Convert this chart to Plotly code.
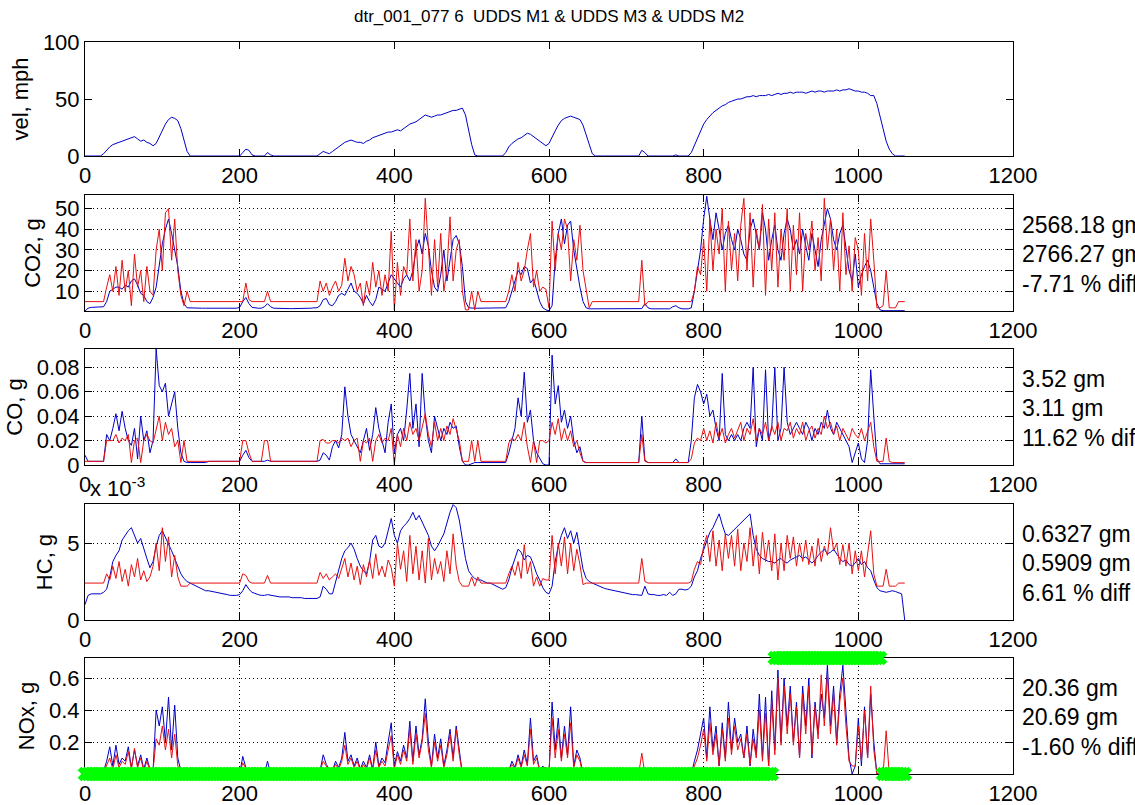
import plotly.graph_objects as go

FIG_W, FIG_H = 1135, 805
FONT = "Liberation Sans, Arial, Helvetica, sans-serif"
BLUE = "#0000C8"
RED = "#E81010"
GREEN = "#00FF00"

# time base of the logged test (s), sampled every 4 s
t_step = 4
t = list(range(0, 1061, t_step))

vel_mph = [
    0, 0, 0, 0, 0, 0, 2, 5, 8, 10,
    11, 12, 13, 14, 15, 16, 17, 15, 13, 14,
    12, 11, 9, 11, 17, 22, 28, 32, 34, 33,
    31, 24, 13, 4, 0, 0, 0, 0, 0, 0,
    0, 0, 0, 0, 0, 0, 0, 0, 0, 0,
    0, 3, 6, 5, 1, 0, 0, 0, 0, 3,
    1, 0, 0, 0, 0, 0, 0, 0, 0, 0,
    0, 0, 0, 0, 0, 0, 2, 4, 3, 2,
    4, 6, 8, 10, 12, 13, 14, 13, 12, 12,
    11, 13, 14, 16, 17, 18, 19, 20, 21, 21,
    22, 23, 22, 24, 26, 28, 29, 30, 32, 34,
    36, 35, 34, 35, 36, 36, 37, 38, 39, 40,
    40, 41, 42, 36, 22, 10, 1, 0, 0, 0,
    0, 0, 0, 0, 0, 0, 3, 8, 11, 13,
    15, 16, 18, 20, 19, 17, 15, 13, 11, 9,
    11, 17, 22, 27, 31, 33, 34, 35, 34, 33,
    32, 27, 19, 10, 2, 0, 0, 0, 0, 0,
    0, 0, 0, 0, 0, 0, 0, 0, 0, 0,
    5, 3, 0, 0, 0, 0, 0, 0, 0, 0,
    0, 1, 0, 0, 0, 0, 3, 9, 16, 22,
    28, 32, 35, 38, 40, 42, 44, 45, 47, 48,
    49, 50, 50, 51, 52, 52, 53, 52, 53, 53,
    53, 54, 53, 54, 55, 54, 55, 55, 56, 55,
    56, 56, 56, 55, 56, 57, 56, 57, 57, 56,
    57, 57, 57, 58, 57, 58, 58, 59, 58, 57,
    57, 56, 56, 55, 53, 53, 46, 36, 24, 13,
    6, 2, 0, 0, 0, 0,
]

co2_meas = [
    0.5, 1.8, 2.2, 2.2, 2.2, 2.3, 2.5, 5, 10, 11,
    12, 12, 11, 13, 12, 15, 16, 13, 9, 8,
    5, 4, 7, 12, 22, 33, 40, 45, 38, 30,
    22, 10, 4, 2, 1.9, 1.9, 1.8, 1.8, 1.8, 1.8,
    1.8, 1.8, 1.8, 1.7, 1.7, 1.7, 1.7, 1.7, 1.7, 1.8,
    2.2, 5, 7, 4, 2.2, 1.9, 1.8, 1.8, 2.5, 4,
    2.5, 1.8, 1.7, 1.7, 1.7, 1.6, 1.6, 1.6, 1.6, 1.6,
    1.6, 1.6, 1.7, 1.8, 2, 2, 3, 6, 6.5, 3.5,
    3, 5, 8, 9, 8, 11, 14, 10, 9, 7,
    4, 8, 5, 3, 6, 12, 11, 10, 14, 18,
    16, 14, 12, 16, 18, 15, 20, 30, 35, 28,
    38, 32, 20, 12, 10, 18, 30, 15, 25, 35,
    37, 33, 22, 5, 2, 1.8, 1.8, 1.8, 1.8, 1.8,
    1.8, 1.8, 1.8, 1.8, 1.8, 1.8, 2, 5, 10, 14,
    20, 18, 22, 21, 14, 16, 10, 5, 2, 1,
    0.6, 3, 25, 38, 45, 33, 42, 44, 30, 20,
    12, 5, 2, 1.5, 1.5, 1.5, 1.5, 1.5, 1.5, 1.5,
    1.5, 1.5, 1.5, 1.5, 1.5, 1.5, 1.5, 1.5, 1.5, 1.5,
    1.6, 4, 2, 1.5, 1.5, 1.5, 1.5, 1.5, 1.5, 1.5,
    2.5, 3, 2, 1.5, 1.5, 1.5, 2, 10, 20, 30,
    45, 56, 45, 35, 48, 40, 30, 38, 42, 35,
    30, 40, 35, 28, 25, 40, 45, 38, 30, 48,
    40, 25, 35, 42, 30, 25, 38, 45, 40, 30,
    35, 28, 40, 32, 25, 38, 30, 22, 35, 42,
    50, 45, 35, 30, 38, 42, 30, 20, 15, 28,
    12, 18, 22, 25, 20, 12, 4, 1, 0.6, 0.6,
    0.6, 0.6, 0.6, 0.6, 0.6, 0.6,
]

co2_model = [
    5, 5, 5, 5, 5, 5, 5, 12, 18, 10,
    22, 8, 25, 10, 20, 3, 28, 12, 20, 5,
    22, 10, 8, 30, 40, 20, 48, 50, 25, 45,
    20, 8, 3, 10, 5, 5, 5, 5, 5, 5,
    5, 5, 5, 5, 5, 5, 5, 5, 5, 5,
    5, 5, 14, 6, 5, 5, 5, 5, 5, 10,
    5, 5, 5, 5, 5, 5, 5, 5, 5, 5,
    5, 5, 5, 5, 5, 5, 15, 10, 14, 8,
    12, 15, 10, 13, 26, 15, 22, 18, 10, 14,
    3, 15, 8, 24, 12, 20, 8, 18, 10, 39,
    1, 24, 8, 22, 18, 45, 15, 35, 10, 20,
    55, 30, 8, 35, 12, 38, 10, 20, 46, 15,
    30, 35, 10, 1, 1, 10, 1, 10, 5, 5,
    5, 5, 5, 5, 5, 5, 5, 10, 18, 10,
    24, 15, 20, 30, 38, 12, 20, 10, 12, 11,
    2, 44, 20, 38, 30, 45, 40, 15, 35, 25,
    42, 20, 10, 2, 5, 5, 5, 5, 5, 5,
    5, 5, 5, 5, 5, 5, 5, 5, 5, 5,
    25, 3, 5, 5, 5, 5, 5, 5, 5, 5,
    5, 5, 5, 5, 5, 5, 5, 10, 22, 18,
    35, 10, 45, 20, 40, 28, 50, 10, 44, 20,
    38, 15, 42, 55, 20, 48, 12, 40, 30, 52,
    8, 45, 20, 48, 12, 40, 25, 50, 10, 42,
    18, 48, 10, 38, 30, 44, 20, 36, 15, 55,
    30, 45, 20, 40, 10, 48, 18, 32, 10, 36,
    30, 8, 38, 15, 45, 25, 2, 2, 3, 20,
    2, 2, 2, 5, 5, 5,
]

co_meas = [
    0.008, 0.003, 0.003, 0.003, 0.003, 0.003, 0.003, 0.025, 0.02, 0.03,
    0.042, 0.028, 0.044, 0.03, 0.02, 0.016, 0.03, 0.005, 0.04, 0.02,
    0.028, 0.01, 0.02, 0.095, 0.065, 0.06, 0.067, 0.04, 0.05, 0.06,
    0.03, 0.01, 0.003, 0.002, 0.002, 0.002, 0.002, 0.002, 0.002, 0.002,
    0.003, 0.003, 0.003, 0.003, 0.003, 0.003, 0.003, 0.003, 0.003, 0.003,
    0.003, 0.008, 0.012, 0.006, 0.003, 0.003, 0.003, 0.003, 0.003, 0.004,
    0.003, 0.003, 0.003, 0.003, 0.003, 0.003, 0.003, 0.003, 0.003, 0.003,
    0.003, 0.003, 0.003, 0.003, 0.003, 0.003, 0.004, 0.01, 0.008, 0.004,
    0.015, 0.02, 0.014, 0.025, 0.064, 0.04, 0.025, 0.02, 0.015, 0.01,
    0.02, 0.03, 0.012, 0.025, 0.047, 0.03, 0.02, 0.01, 0.035, 0.05,
    0.01, 0.025, 0.03, 0.02, 0.045, 0.075, 0.03, 0.05, 0.015, 0.075,
    0.04, 0.02, 0.01, 0.04, 0.03, 0.02, 0.03, 0.025, 0.035, 0.03,
    0.032, 0.015, 0.003, 0.0, 0.0, 0.001, 0.002, 0.002, 0.002, 0.002,
    0.002, 0.002, 0.002, 0.002, 0.002, 0.002, 0.002, 0.01, 0.02, 0.03,
    0.055, 0.04, 0.076, 0.035, 0.045, 0.02, 0.01, 0.005, 0.001, 0.0,
    0.0, 0.09, 0.05, 0.065, 0.035, 0.045, 0.03, 0.04, 0.02, 0.01,
    0.015, 0.003, 0.002, 0.002, 0.002, 0.002, 0.002, 0.002, 0.002, 0.002,
    0.002, 0.002, 0.002, 0.002, 0.002, 0.002, 0.002, 0.002, 0.002, 0.002,
    0.04, 0.004, 0.002, 0.002, 0.002, 0.002, 0.002, 0.002, 0.002, 0.002,
    0.002, 0.005, 0.002, 0.002, 0.002, 0.002, 0.02, 0.055, 0.066, 0.06,
    0.05, 0.058, 0.04, 0.045, 0.03, 0.02, 0.075, 0.025, 0.02, 0.025,
    0.02, 0.025, 0.02, 0.03, 0.035, 0.03, 0.08, 0.015, 0.03, 0.02,
    0.078, 0.02, 0.03, 0.08, 0.02, 0.03, 0.08, 0.035, 0.025, 0.03,
    0.035, 0.03, 0.025, 0.035, 0.03, 0.02, 0.03, 0.025, 0.035, 0.03,
    0.045, 0.03, 0.025, 0.035, 0.03, 0.025, 0.02, 0.015, 0.002, 0.01,
    0.018, 0.005, 0.002, 0.02, 0.078, 0.04, 0.005, 0.001, 0.001, 0.001,
    0.001, 0.001, 0.001, 0.001, 0.001, 0.001,
]

co_model = [
    0.003, 0.003, 0.003, 0.003, 0.003, 0.003, 0.003, 0.02, 0.02, 0.02,
    0.025, 0.018, 0.022, 0.02, 0.025, 0.002, 0.02, 0.022, 0.002, 0.02,
    0.025, 0.02, 0.018, 0.03, 0.04, 0.02, 0.035, 0.025, 0.03, 0.015,
    0.02, 0.002, 0.02, 0.003, 0.003, 0.003, 0.003, 0.003, 0.003, 0.003,
    0.003, 0.003, 0.003, 0.003, 0.003, 0.003, 0.003, 0.003, 0.003, 0.003,
    0.003, 0.02, 0.02, 0.01, 0.003, 0.003, 0.003, 0.003, 0.02, 0.02,
    0.003, 0.003, 0.003, 0.003, 0.003, 0.003, 0.003, 0.003, 0.003, 0.003,
    0.003, 0.003, 0.003, 0.003, 0.003, 0.003, 0.02, 0.021, 0.018, 0.018,
    0.02, 0.02, 0.018, 0.022, 0.02, 0.022, 0.015, 0.02, 0.022, 0.003,
    0.02, 0.018, 0.022, 0.003, 0.02, 0.025, 0.018, 0.022, 0.02, 0.03,
    0.0, 0.025, 0.015, 0.03, 0.02, 0.035, 0.025, 0.03, 0.02, 0.03,
    0.042, 0.025, 0.015, 0.035, 0.02, 0.03, 0.02, 0.032, 0.025, 0.038,
    0.03, 0.02, 0.003, 0.003, 0.003, 0.02, 0.003, 0.02, 0.003, 0.003,
    0.003, 0.003, 0.003, 0.003, 0.003, 0.003, 0.003, 0.018, 0.022, 0.02,
    0.025, 0.02, 0.035, 0.015, 0.002, 0.02, 0.002, 0.02, 0.02, 0.018,
    0.02, 0.035, 0.025, 0.038, 0.02, 0.03, 0.02, 0.028, 0.015, 0.02,
    0.01, 0.003, 0.002, 0.002, 0.002, 0.002, 0.002, 0.002, 0.002, 0.002,
    0.002, 0.002, 0.002, 0.002, 0.002, 0.002, 0.002, 0.002, 0.002, 0.002,
    0.025, 0.003, 0.002, 0.002, 0.002, 0.002, 0.002, 0.002, 0.002, 0.002,
    0.002, 0.002, 0.002, 0.002, 0.002, 0.002, 0.005, 0.018, 0.022, 0.02,
    0.03, 0.02, 0.028, 0.018, 0.035, 0.022, 0.03, 0.018, 0.025, 0.03,
    0.022, 0.028, 0.035, 0.02, 0.03, 0.025, 0.038, 0.02, 0.03, 0.025,
    0.035, 0.02, 0.032, 0.025, 0.035, 0.02, 0.03, 0.028, 0.035, 0.022,
    0.03, 0.025, 0.035, 0.02, 0.028, 0.032, 0.022, 0.03, 0.025, 0.04,
    0.03, 0.035, 0.025, 0.032, 0.02, 0.03, 0.025, 0.02, 0.03, 0.025,
    0.022, 0.03, 0.02, 0.028, 0.035, 0.015, 0.003, 0.003, 0.003, 0.022,
    0.003, 0.002, 0.002, 0.002, 0.002, 0.002,
]

# HC in units of 1e-3 g
hc_meas = [
    1.0, 1.6, 1.7, 1.7, 1.7, 1.7, 1.8, 2.0, 2.8, 3.8,
    4.2, 4.5, 5.2, 5.5, 5.8, 6.0, 5.5, 5.0, 5.3, 4.6,
    4.0, 3.4, 3.8, 4.8, 5.5, 5.8, 5.4, 5.0, 4.5, 4.0,
    3.5, 3.0, 2.7, 2.5, 2.4, 2.3, 2.2, 2.1, 2.0, 1.9,
    1.9, 1.85, 1.8, 1.75, 1.7, 1.7, 1.65, 1.6, 1.6, 1.6,
    1.65, 1.9, 2.3, 2.0, 1.8, 1.7, 1.65, 1.6, 1.6, 1.65,
    1.6, 1.55, 1.55, 1.5, 1.5, 1.5, 1.5, 1.45, 1.45, 1.45,
    1.45, 1.4, 1.4, 1.4, 1.4, 1.4, 1.5, 2.2, 2.0, 1.7,
    1.7, 2.5, 3.2, 4.0, 4.5, 4.7, 5.0, 4.6, 4.0, 3.5,
    3.2, 3.0, 3.8, 5.2, 5.5, 4.8, 4.7, 5.0, 5.8, 6.6,
    5.5, 5.0, 5.8, 6.1, 6.3, 6.6, 7.0, 6.5, 6.8, 6.4,
    6.0, 5.5, 4.8, 4.5, 4.8, 5.2, 5.6, 6.3, 7.0, 7.5,
    7.3, 6.5, 5.2, 4.0, 3.2, 2.9, 2.7, 2.6, 2.6, 2.5,
    2.4, 2.4, 2.3, 2.2, 2.1, 2.0, 2.1, 2.6, 3.4, 4.0,
    4.6, 4.4, 3.9, 4.2, 4.1, 3.6, 3.0, 2.6, 2.1, 1.8,
    1.7, 2.2, 3.8, 4.8, 5.5, 6.0, 5.3, 5.8, 5.0, 5.7,
    4.5, 3.3, 2.7, 2.5, 2.4, 2.3, 2.2, 2.1, 2.05, 2.0,
    1.95, 1.9, 1.85, 1.8, 1.75, 1.7, 1.7, 1.65, 1.65, 1.6,
    1.6, 2.2, 1.7, 1.65, 1.65, 1.6, 1.6, 1.65, 1.6, 1.8,
    1.6, 1.7, 2.0, 2.0, 1.95, 2.0, 2.2, 2.8, 3.2, 4.0,
    4.6, 5.2, 5.7, 6.0, 6.5, 6.9, 6.2, 5.6, 5.5, 5.7,
    5.9, 6.1, 6.3, 6.5, 6.7, 6.9, 5.5, 4.6, 4.2, 4.0,
    3.9, 3.8, 3.8, 3.7, 3.9, 4.0, 3.8, 3.7, 3.9, 4.0,
    4.1, 4.2, 4.0, 4.1, 3.9, 3.7, 3.9, 4.2, 4.4, 4.6,
    4.3, 4.4, 4.6, 4.3, 4.0, 3.8, 3.9, 3.6, 3.5, 3.7,
    4.0, 3.6, 3.8, 3.4, 3.2, 2.6, 2.1, 1.9, 1.85, 1.8,
    1.85, 1.9, 1.85, 1.8, 1.7, 0.0,
]

hc_model = [
    2.4, 2.4, 2.4, 2.4, 2.4, 2.4, 2.4, 3.0, 2.6, 3.5,
    2.7, 3.8, 2.5, 3.3, 2.2, 3.6, 2.8, 4.0, 2.6, 3.2,
    2.5, 2.8, 3.5, 5.0, 3.2, 6.0, 3.8, 5.4, 2.8, 4.2,
    2.8, 2.2, 2.2, 2.2, 2.4, 2.4, 2.4, 2.4, 2.4, 2.4,
    2.4, 2.4, 2.4, 2.4, 2.4, 2.4, 2.4, 2.4, 2.4, 2.4,
    2.4, 3.0, 2.9, 2.5, 2.4, 2.4, 2.4, 2.4, 2.4, 2.9,
    2.4, 2.4, 2.4, 2.4, 2.4, 2.4, 2.4, 2.4, 2.4, 2.4,
    2.4, 2.4, 2.4, 2.4, 2.4, 2.4, 3.1, 2.7, 3.0, 2.6,
    2.8, 3.0, 2.7, 3.3, 4.0, 2.8, 3.7, 2.6, 3.5, 2.3,
    3.6, 2.8, 3.9, 2.7, 4.3, 2.9, 3.5, 2.8, 3.9, 3.4,
    2.2, 5.0, 3.3, 4.5, 2.5, 5.5, 3.0, 4.8, 2.6, 4.5,
    2.4, 5.3, 2.6, 4.0, 3.0, 3.8, 2.5, 4.5, 3.0, 5.6,
    3.5, 2.5, 2.2, 2.2, 2.2, 2.8, 2.2, 2.8, 2.4, 2.4,
    2.4, 2.4, 2.4, 2.4, 2.4, 2.4, 2.4, 3.0, 3.5, 2.9,
    3.8, 2.7, 4.9, 3.0, 3.8, 2.2, 2.8, 2.2, 2.7, 2.6,
    2.6, 5.5, 3.0, 5.0, 3.5, 5.4, 3.0, 5.0, 3.2, 4.6,
    3.6, 2.3, 2.4, 2.4, 2.4, 2.4, 2.4, 2.4, 2.4, 2.4,
    2.4, 2.4, 2.4, 2.4, 2.4, 2.4, 2.4, 2.4, 2.4, 2.4,
    4.0, 2.5, 2.4, 2.4, 2.4, 2.4, 2.4, 2.4, 2.4, 2.4,
    2.4, 2.4, 2.4, 2.4, 2.4, 2.4, 2.5, 3.3, 3.8, 3.6,
    4.8, 5.5, 3.8, 5.8, 3.5, 5.2, 3.2, 5.6, 4.0, 5.5,
    3.5, 5.9, 3.2, 5.0, 3.8, 6.0, 3.5, 5.5, 3.0, 5.7,
    3.8, 5.2, 3.2, 5.6, 2.6, 5.0, 3.2, 5.5, 4.0, 5.4,
    3.5, 5.0, 3.8, 5.2, 3.6, 4.8, 3.5, 5.3, 3.8, 4.8,
    4.2, 6.0, 4.5, 5.0, 3.6, 4.9, 3.5, 5.0, 3.0, 4.5,
    3.2, 4.5, 2.8, 4.2, 5.8, 3.0, 2.2, 2.2, 2.2, 3.3,
    2.2, 2.2, 2.2, 2.4, 2.4, 2.4,
]

nox_meas = [
    0.04, 0.0, 0.0, 0.0, 0.0, 0.0, 0.02, 0.08, 0.17, 0.05,
    0.18, 0.06, 0.1, 0.08, 0.17, 0.04, 0.15, 0.05, 0.12, 0.03,
    0.1, 0.03, 0.02, 0.4, 0.3, 0.42, 0.2, 0.48, 0.15, 0.43,
    0.1, 0.02, 0.0, 0.0, 0.0, 0.0, 0.0, 0.0, 0.0, 0.0,
    0.0, 0.0, 0.0, 0.0, 0.0, 0.0, 0.0, 0.0, 0.0, 0.0,
    0.0, 0.11, 0.04, 0.0, 0.0, 0.0, 0.0, 0.0, 0.0, 0.08,
    0.0, 0.0, 0.0, 0.0, 0.0, 0.0, 0.0, 0.0, 0.0, 0.0,
    0.0, 0.0, 0.0, 0.0, 0.0, 0.0, 0.02, 0.12, 0.06, 0.03,
    0.02, 0.08, 0.04, 0.1, 0.26, 0.08, 0.12, 0.05, 0.1, 0.03,
    0.08, 0.04, 0.12, 0.03, 0.2, 0.05, 0.1, 0.07, 0.2, 0.32,
    0.05, 0.14, 0.08, 0.18, 0.1, 0.33, 0.08, 0.3, 0.12, 0.22,
    0.47, 0.2, 0.05, 0.25, 0.1, 0.22, 0.05, 0.15, 0.28, 0.1,
    0.3, 0.15, 0.0, 0.0, 0.0, 0.0, 0.0, 0.0, 0.0, 0.0,
    0.0, 0.0, 0.0, 0.0, 0.0, 0.0, 0.0, 0.02, 0.08, 0.04,
    0.12, 0.05, 0.15, 0.06, 0.35, 0.08, 0.12, 0.02, 0.05, 0.02,
    0.0, 0.45, 0.15, 0.35, 0.1, 0.3, 0.12, 0.42, 0.05, 0.15,
    0.1, 0.0, 0.0, 0.0, 0.0, 0.0, 0.0, 0.0, 0.0, 0.0,
    0.0, 0.0, 0.0, 0.0, 0.0, 0.0, 0.0, 0.0, 0.0, 0.0,
    0.02, 0.0, 0.0, 0.0, 0.0, 0.0, 0.0, 0.0, 0.0, 0.0,
    0.0, 0.03, 0.0, 0.0, 0.0, 0.0, 0.0, 0.08, 0.15, 0.25,
    0.35, 0.1, 0.42, 0.15, 0.3, 0.05, 0.32, 0.1, 0.45, 0.15,
    0.35, 0.2, 0.25, 0.1, 0.3, 0.05, 0.28, 0.12, 0.5, 0.1,
    0.48, 0.05, 0.52, 0.15, 0.65, 0.2, 0.6, 0.3, 0.55, 0.2,
    0.45, 0.1, 0.55, 0.3, 0.6, 0.1, 0.45, 0.25, 0.5, 0.35,
    0.68, 0.3, 0.55, 0.2, 0.5, 0.68, 0.35, 0.1, 0.0, 0.05,
    0.35, 0.05, 0.42, 0.1, 0.5, 0.2, 0.0, 0.0, 0.0, 0.0,
    0.0, 0.0, 0.0, 0.0, 0.0, 0.0,
]

nox_model = [
    0.02, 0.0, 0.0, 0.0, 0.0, 0.0, 0.01, 0.05, 0.1, 0.03,
    0.12, 0.04, 0.08, 0.06, 0.14, 0.03, 0.16, 0.04, 0.1, 0.02,
    0.08, 0.02, 0.02, 0.22, 0.18, 0.3, 0.15, 0.28, 0.1, 0.25,
    0.05, 0.02, 0.0, 0.03, 0.0, 0.0, 0.0, 0.0, 0.0, 0.0,
    0.0, 0.0, 0.0, 0.0, 0.0, 0.0, 0.0, 0.0, 0.0, 0.0,
    0.0, 0.07, 0.03, 0.0, 0.0, 0.0, 0.0, 0.0, 0.0, 0.03,
    0.0, 0.0, 0.0, 0.0, 0.0, 0.0, 0.0, 0.0, 0.0, 0.0,
    0.0, 0.0, 0.0, 0.0, 0.0, 0.0, 0.02, 0.08, 0.05, 0.02,
    0.02, 0.06, 0.03, 0.08, 0.18, 0.06, 0.1, 0.04, 0.08, 0.02,
    0.06, 0.03, 0.1, 0.02, 0.15, 0.04, 0.08, 0.05, 0.15, 0.24,
    0.03, 0.12, 0.06, 0.15, 0.08, 0.28, 0.06, 0.25, 0.1, 0.2,
    0.38, 0.15, 0.04, 0.2, 0.08, 0.18, 0.04, 0.12, 0.25, 0.08,
    0.28, 0.12, 0.0, 0.03, 0.0, 0.03, 0.0, 0.0, 0.0, 0.0,
    0.0, 0.0, 0.0, 0.0, 0.0, 0.0, 0.0, 0.02, 0.06, 0.03,
    0.1, 0.04, 0.12, 0.05, 0.28, 0.06, 0.1, 0.02, 0.04, 0.04,
    0.02, 0.35, 0.1, 0.28, 0.08, 0.25, 0.1, 0.32, 0.04, 0.12,
    0.08, 0.0, 0.0, 0.0, 0.0, 0.0, 0.0, 0.0, 0.0, 0.0,
    0.0, 0.0, 0.0, 0.0, 0.0, 0.0, 0.0, 0.0, 0.0, 0.0,
    0.13, 0.0, 0.0, 0.0, 0.0, 0.0, 0.0, 0.0, 0.0, 0.0,
    0.0, 0.0, 0.0, 0.0, 0.0, 0.0, 0.0, 0.05, 0.1, 0.18,
    0.28, 0.08, 0.32, 0.12, 0.25, 0.05, 0.28, 0.08, 0.35, 0.12,
    0.3, 0.15, 0.22, 0.1, 0.25, 0.06, 0.22, 0.1, 0.4, 0.08,
    0.38, 0.05, 0.45, 0.12, 0.6, 0.18, 0.55, 0.25, 0.5, 0.18,
    0.42, 0.1, 0.5, 0.25, 0.55, 0.12, 0.42, 0.22, 0.62, 0.3,
    0.62, 0.25, 0.5, 0.18, 0.45, 0.6, 0.3, 0.08, 0.05, 0.05,
    0.3, 0.08, 0.4, 0.1, 0.55, 0.15, 0.0, 0.0, 0.0, 0.27,
    0.0, 0.0, 0.0, 0.0, 0.0, 0.0,
]

# NOx flag: raised between these times (s), low elsewhere
nox_flag_from, nox_flag_to = 890, 1028

# cycle totals: measured, modelled, % difference
co2_totals = (2568.18, 2766.27, -7.71)
co_totals = (3.52, 3.11, 11.62)
hc_totals = (0.6327, 0.5909, 6.61)
nox_totals = (20.36, 20.69, -1.60)

title_text = "dtr_001_077 6 \u00a0UDDS M1 & UDDS M3 & UDDS M2"

for arr in (vel_mph, co2_meas, co2_model, co_meas, co_model,
            hc_meas, hc_model, nox_meas, nox_model):
    assert len(arr) == len(t), len(arr)

# ---- layout geometry (pixels) ----
plot_left, plot_right = 85, 1013
rows_px = [(42, 156), (195, 311), (349, 465), (504, 620), (658, 774)]


def px_x(p):
    return p / FIG_W


def px_y(p):
    return 1 - p / FIG_H


y_titles = ["vel, mph", "CO2, g", "CO, g", "HC, g", "NOx, g"]
y_ranges = [[0, 100], [0.45, 56.6], [0, 0.095], [0, 7.54], [0, 0.725]]
y_ticks = [[0, 50, 100], [10, 20, 30, 40, 50],
           [0, 0.02, 0.04, 0.06, 0.08], [0, 5], [0.2, 0.4, 0.6]]

fig = go.Figure()

series = [
    (vel_mph, None),
    (co2_meas, co2_model),
    (co_meas, co_model),
    (hc_meas, hc_model),
    (nox_meas, nox_model),
]

for k, (meas, model) in enumerate(series):
    ax = "" if k == 0 else str(k + 1)
    fig.add_trace(go.Scatter(x=t, y=meas, mode="lines", xaxis="x" + ax, yaxis="y" + ax,
                             line=dict(color=BLUE, width=1), showlegend=False,
                             hoverinfo="skip"))
    if model is not None:
        fig.add_trace(go.Scatter(x=t, y=model, mode="lines", xaxis="x" + ax, yaxis="y" + ax,
                                 line=dict(color=RED, width=1), showlegend=False,
                                 hoverinfo="skip"))

flag_top = y_ranges[4][1]
flag_bot = y_ranges[4][0]
flag_y = [flag_top if nox_flag_from <= ti <= nox_flag_to else flag_bot for ti in t]
fig.add_trace(go.Scatter(x=t, y=flag_y, mode="markers", xaxis="x5", yaxis="y5",
                         marker=dict(symbol="x", size=13, color=GREEN, line=dict(width=0)),
                         cliponaxis=False, showlegend=False, hoverinfo="skip"))

tick_font = dict(family=FONT, size=22, color="black")
layout = dict(
    template="none",
    width=FIG_W, height=FIG_H, autosize=False,
    margin=dict(l=0, r=0, t=0, b=0, pad=0),
    paper_bgcolor="white", plot_bgcolor="white",
    showlegend=False,
    font=dict(family=FONT, size=22, color="black"),
)

for k, (top, bot) in enumerate(rows_px):
    ax = "" if k == 0 else str(k + 1)
    grid = k > 0
    common = dict(showline=True, linecolor="black", linewidth=1, mirror="ticks",
                  ticks="inside", ticklen=7, tickwidth=1, tickcolor="black",
                  zeroline=False, showgrid=grid, gridcolor="black", gridwidth=1,
                  griddash="1px,3px", tickfont=tick_font, fixedrange=True,
                  automargin=False)
    layout["xaxis" + ax] = dict(common, domain=[px_x(plot_left), px_x(plot_right)],
                                range=[0, 1200], tickvals=[0, 200, 400, 600, 800, 1000, 1200],
                                anchor="y" + ax,
                                layer="below traces" if k == 4 else "above traces")
    layout["yaxis" + ax] = dict(common, domain=[px_y(bot), px_y(top)],
                                range=y_ranges[k], tickvals=y_ticks[k],
                                anchor="x" + ax,
                                title=dict(text=y_titles[k], standoff=8,
                                           font=dict(family=FONT, size=22, color="black")),
                                layer="below traces" if k == 4 else "above traces")

annotations = [
    dict(text=title_text, x=px_x((plot_left + plot_right) / 2), y=px_y(17),
         xref="paper", yref="paper", xanchor="center", yanchor="middle",
         showarrow=False, font=dict(family=FONT, size=17, color="black")),
    dict(text="x 10<sup>-3</sup>", x=px_x(88), y=px_y(487),
         xref="paper", yref="paper", xanchor="left", yanchor="middle",
         showarrow=False, font=dict(family=FONT, size=22, color="black")),
]

totals = [(co2_totals, 2), (co_totals, 2), (hc_totals, 4), (nox_totals, 2)]
text_offsets = [30, 59, 89]
for k, ((meas_tot, model_tot, diff), nd) in enumerate(totals):
    top = rows_px[k + 1][0]
    lines = [f"{meas_tot:.{nd}f} gm", f"{model_tot:.{nd}f} gm", f"{diff:.2f} % diff"]
    for line, off in zip(lines, text_offsets):
        annotations.append(dict(text=line, x=px_x(1020), y=px_y(top + off),
                                xref="paper", yref="paper", xanchor="left",
                                yanchor="middle", showarrow=False,
                                font=dict(family=FONT, size=23, color="black")))

layout["annotations"] = annotations
fig.update_layout(**layout)

fig.write_html("out.html",
               post_script="document.body.style.margin='0';"
                           "document.body.style.overflow='hidden';")
